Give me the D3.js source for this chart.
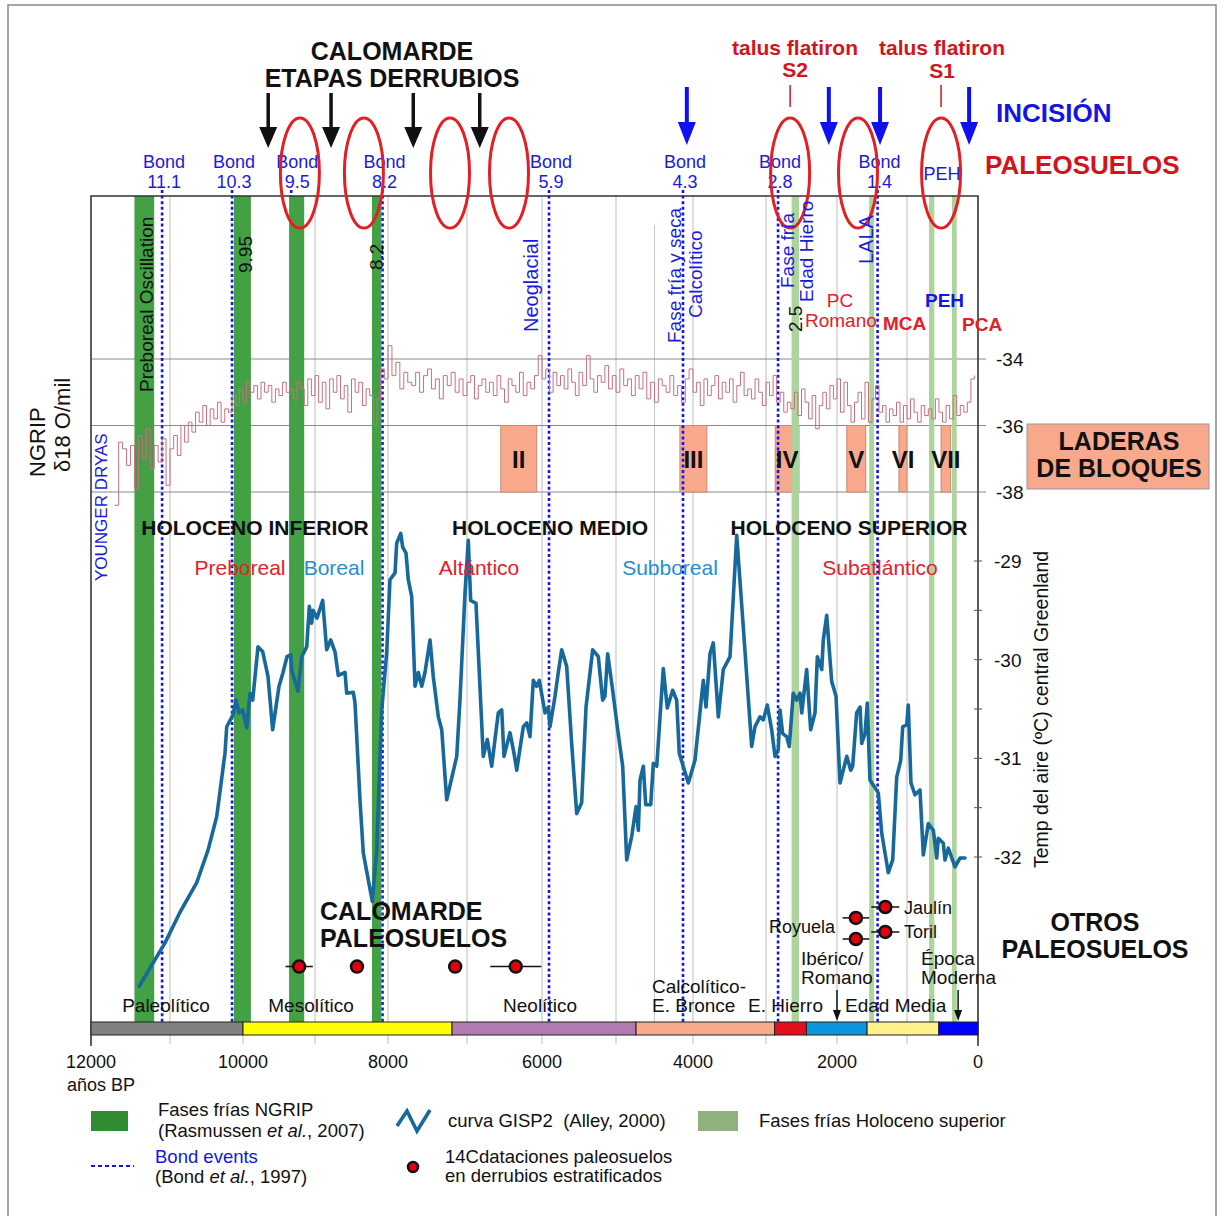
<!DOCTYPE html>
<html>
<head>
<meta charset="utf-8">
<script src="https://cdn.jsdelivr.net/npm/d3@7"></script>
<style>
  body { margin: 0; background: #fff; }
  svg { display: block; font-family: "Liberation Sans", Arial, sans-serif; }
</style>
</head>
<body>
<svg id="chart" width="1224" height="1216"></svg>
<script>
// ---- data (years BP) ----
const gridYears = [12000, 11000, 10000, 9000, 8000, 7000, 6000, 5000, 4000, 3000, 2000, 1000, 0];
const tickYears = [12000, 10000, 8000, 6000, 4000, 2000, 0];
const ngripTicks = [-34, -36, -38];
const gispTicks = [-29, -30, -31, -32];
const gispMinor = [-29.5, -30.5, -31.5];

// GISP2 air temperature, central Greenland (Alley 2000)
const gispYears = [11390,11063,10863,10634,10479,10360,10247,10223,10137,10096,
  10055,10004,9949,9903,9865,9792,9726,9653,9588,9500,
  9444,9389,9338,9319,9236,9185,9115,9079,9046,9028,
  8973,8895,8840,8785,8726,8681,8589,8566,8475,8452,
  8384,8338,8215,8155,8086,8018,7975,7911,7890,7839,
  7814,7772,7743,7700,7658,7616,7573,7532,7468,7427,
  7363,7320,7257,7130,7089,7025,6983,6951,6880,6783,
  6729,6671,6583,6537,6507,6427,6373,6337,6249,6204,
  6160,6116,6071,6036,5959,5915,5892,5824,5780,5734,
  5666,5599,5531,5464,5405,5315,5239,5180,5149,5113,
  5045,4983,4913,4861,4796,4740,4710,4688,4645,4614,
  4549,4515,4471,4386,4334,4264,4212,4178,4061,3973,
  3859,3822,3767,3722,3653,3585,3493,3401,3311,3196,
  3151,3082,3037,2982,2920,2873,2827,2803,2765,2709,
  2672,2616,2568,2521,2497,2427,2371,2310,2277,2215,
  2193,2145,2075,2014,1957,1861,1804,1776,1719,1671,
  1647,1600,1567,1529,1410,1361,1267,1204,1147,1090,
  1061,1004,982,944,887,817,770,700,629,582,
  559,489,465,418,324,253,183];
const gispTemp = [-33.31,-32.87,-32.56,-32.26,-31.93,-31.59,-30.95,-30.68,-30.56,-30.41,
  -30.54,-30.51,-30.69,-30.34,-30.41,-29.87,-29.92,-30.17,-30.71,-30.27,
  -30.13,-29.97,-29.95,-30.12,-30.32,-29.97,-29.87,-29.46,-29.63,-29.50,
  -29.58,-29.40,-29.90,-29.80,-29.92,-30.16,-30.13,-30.34,-30.33,-30.44,
  -31.42,-31.96,-32.45,-31.93,-30.51,-29.93,-29.19,-29.12,-28.82,-28.72,
  -28.86,-28.92,-29.19,-29.36,-30.27,-30.13,-30.27,-30.13,-29.80,-30.17,
  -30.58,-30.71,-31.42,-30.98,-30.41,-29.32,-28.79,-29.40,-29.43,-30.98,
  -30.81,-31.08,-30.54,-30.51,-30.98,-30.74,-30.95,-31.12,-30.68,-30.64,
  -30.78,-30.21,-30.27,-30.21,-30.54,-30.48,-30.68,-30.37,-30.13,-29.90,
  -30.07,-30.85,-31.56,-31.45,-30.48,-29.90,-29.97,-30.41,-30.37,-29.94,
  -30.31,-30.68,-31.08,-32.03,-31.79,-31.49,-31.73,-31.22,-31.08,-31.47,
  -31.47,-31.05,-31.08,-30.09,-30.49,-30.31,-30.41,-30.95,-31.25,-31.02,
  -30.21,-30.48,-29.94,-29.83,-30.58,-30.10,-29.97,-28.74,-29.67,-30.88,
  -30.68,-30.58,-30.61,-30.46,-30.71,-30.98,-30.91,-30.51,-30.75,-30.78,
  -30.88,-30.34,-30.41,-30.34,-30.54,-30.10,-30.71,-30.54,-29.97,-30.10,
  -29.80,-29.55,-30.22,-30.37,-31.25,-30.98,-31.12,-31.08,-30.54,-30.48,
  -30.85,-30.75,-30.44,-31.22,-31.35,-31.76,-32.16,-32.03,-31.19,-31.02,
  -30.68,-30.66,-30.46,-31.25,-31.37,-31.32,-31.98,-31.66,-31.73,-32.01,
  -31.81,-31.86,-32.03,-31.91,-32.10,-32.01,-32.01];

// NGRIP d18O, one value every 50 years from 11700 BP
const ngripStart = 11700, ngripStep = 50;
const ngripValues = [
  -38.4,-36.5,-36.7,-37.2,-36.6,-37.9,-36.3,-37.0,-36.1,-37.3,
  -36.6,-37.1,-36.4,-37.8,-36.7,-36.3,-36.9,-36.0,-36.5,-35.9,
  -36.2,-35.6,-35.9,-35.4,-36.0,-35.5,-35.8,-35.3,-35.9,-35.5,
  -35.6,-35.1,-35.4,-34.9,-35.3,-34.7,-35.0,-34.8,-35.2,-34.7,
  -35.0,-34.8,-35.3,-34.9,-35.1,-34.7,-35.0,-34.9,-35.2,-34.7,
  -34.9,-35.4,-34.6,-35.1,-34.5,-35.3,-34.7,-35.5,-34.6,-35.0,
  -34.5,-35.2,-34.8,-35.6,-34.6,-35.0,-34.7,-35.4,-34.9,-35.1,
  -36.0,-35.2,-34.3,-34.6,-33.6,-34.5,-34.1,-34.9,-34.4,-34.7,
  -34.8,-34.4,-35.0,-34.5,-34.3,-34.9,-34.6,-35.2,-34.5,-34.8,
  -34.4,-35.0,-34.6,-35.1,-34.7,-34.5,-35.2,-34.8,-34.6,-35.0,
  -34.7,-35.1,-34.5,-34.9,-35.3,-34.6,-34.8,-35.0,-34.4,-35.1,
  -34.7,-34.9,-34.5,-33.9,-34.6,-34.3,-35.0,-34.4,-34.8,-34.5,
  -34.9,-34.3,-34.7,-35.1,-34.4,-34.8,-33.9,-34.6,-35.0,-34.5,
  -34.7,-34.2,-34.9,-34.5,-35.0,-34.3,-34.8,-34.6,-35.1,-34.5,
  -34.9,-34.4,-35.2,-34.7,-35.3,-34.6,-34.8,-35.0,-34.5,-35.1,
  -34.8,-35.3,-34.6,-34.3,-35.0,-34.7,-35.4,-34.6,-35.1,-34.8,
  -34.5,-35.2,-34.7,-35.0,-34.6,-35.3,-34.8,-34.4,-35.1,-34.9,
  -35.2,-34.6,-35.0,-35.4,-34.7,-35.1,-34.5,-35.3,-35.0,-35.6,
  -35.3,-35.5,-35.0,-35.7,-34.9,-35.3,-35.8,-35.1,-36.1,-35.4,
  -35.0,-35.5,-34.8,-35.2,-34.6,-35.6,-34.7,-35.4,-35.9,-35.3,
  -35.0,-35.8,-34.7,-35.9,-35.2,-34.8,-35.6,-35.4,-35.9,-35.5,
  -35.7,-35.3,-35.9,-35.4,-35.8,-35.2,-35.6,-35.9,-35.4,-35.7,
  -35.5,-35.8,-35.2,-35.6,-35.9,-35.4,-35.8,-35.1,-35.7,-35.4,
  -35.6,-35.3,-34.6,-34.5];

const coldNGRIP = [[11450, 11200], [10125, 9890], [9360, 9150], [8220, 8090]];
const coldLate = [[2640, 2535], [1540, 1470], [690, 615], [366, 300]];
const bondYears = [11100, 10150, 9330, 8075, 5905, 4130, 2830, 1420];
const bondNames = ["11.1", "10.3", "9.5", "8.2", "5.9", "4.3", "2.8", "1.4"];
const laderaNames = ["II", "III", "IV", "V", "VI", "VII"];
const laderaFrom = [6550, 4170, 2870, 1860, 1115, 520];
const laderaTo = [6070, 3810, 2535, 1590, 1000, 385];
const periodColors = ["#808080", "#ffff00", "#b07cb0", "#f9aa8c", "#e3101c", "#0f95dd", "#fff28a", "#0000ff"];
const periodBreaks = [12000, 10000, 7190, 4740, 2880, 2430, 1570, 552, 0];
const paleoEllipses = [9210, 8330, 7215, 6440, 2660, 1700, 520];
const derrubioArrows = [9650, 8780, 7680, 6830];
const incisionArrows = [4080, 2115, 1385, 125];
// 14C dates: [age, error, row]
const calomardeDates = [[9220, 190, 1.86], [8425, 0, 1.86], [7150, 0, 1.86], [6350, 340, 1.86]];
const otrosDates = [[1730, 190, 0.34], [1730, 190, 1], [1310, 200, 0], [1310, 200, 0.78]];

// ---- scales ----
const svg = d3.select("#chart");
const x = d3.scaleLinear().domain(gridYears)
  .range([91, 170, 243, 315, 388, 467, 542, 616, 693, 766, 837, 907, 978]);
const yN = d3.scaleLinear().domain([-34, -38]).range([359, 492]);
const yG = d3.scaleLinear().domain([-29, -32]).range([561, 857]);
const yDot = d3.scaleLinear().domain([0, 1]).range([907, 939]);
const plotTop = 196, barTop = 1022, barBot = 1035;
const red = "#e3202a", blue = "#1a1ae0", lightBlue = "#1e8fd5", ink = "#111";

function txt(g, tx, ty, s, o = {}) {
  return g.append("text")
    .attr("x", tx).attr("y", ty)
    .attr("font-size", o.size || 18)
    .attr("font-weight", o.bold ? "bold" : null)
    .attr("fill", o.fill || ink)
    .attr("text-anchor", o.anchor || "start")
    .text(s);
}
function vtxt(g, bx, by, s, o = {}) {
  return g.append("text")
    .attr("transform", `translate(${bx},${by}) rotate(-90)`)
    .attr("font-size", o.size || 18)
    .attr("font-weight", o.bold ? "bold" : null)
    .attr("fill", o.fill || ink)
    .attr("text-anchor", o.anchor || "start")
    .text(s);
}
function arrow(g, ax, y0, yh, y1, color, w) {
  g.append("line").attr("x1", ax).attr("x2", ax).attr("y1", y0).attr("y2", yh + 2)
    .attr("stroke", color).attr("stroke-width", w);
  g.append("path").attr("d", `M${ax - 9},${yh}L${ax + 9},${yh}L${ax},${y1}Z`).attr("fill", color);
}

// outer frame
svg.append("rect").attr("x", 8).attr("y", 5).attr("width", 1208).attr("height", 1230)
  .attr("fill", "none").attr("stroke", "#888").attr("stroke-width", 1.5);

// gridlines
svg.append("g").selectAll("line").data(gridYears).join("line")
  .attr("x1", d => x(d)).attr("x2", d => x(d))
  .attr("y1", plotTop).attr("y2", 1044)
  .attr("stroke", "#bdbdbd").attr("stroke-width", 1);
svg.append("line").attr("x1", x(4500)).attr("x2", x(4500)).attr("y1", 225).attr("y2", barTop)
  .attr("stroke", "#c8c8c8");
svg.append("g").selectAll("line").data(ngripTicks).join("line")
  .attr("x1", 91).attr("x2", 986)
  .attr("y1", d => yN(d)).attr("y2", d => yN(d))
  .attr("stroke", "#8a8a8a").attr("stroke-width", 1);

// laderas de bloques
svg.append("g").selectAll("rect").data(laderaNames).join("rect")
  .attr("x", (d, i) => x(laderaFrom[i]))
  .attr("width", (d, i) => x(laderaTo[i]) - x(laderaFrom[i]))
  .attr("y", yN(-36)).attr("height", yN(-38) - yN(-36))
  .attr("fill", "#f8a98c").attr("stroke", "#c98a70").attr("stroke-width", 1);

// bond events
svg.append("g").selectAll("line").data(bondYears).join("line")
  .attr("x1", d => x(d)).attr("x2", d => x(d))
  .attr("y1", 190).attr("y2", barTop)
  .attr("stroke", "#1414e6").attr("stroke-width", 2.6).attr("stroke-dasharray", "3,2.6");

// cold phases
svg.append("g").selectAll("rect").data(coldNGRIP).join("rect")
  .attr("x", d => x(d[0])).attr("width", d => x(d[1]) - x(d[0]))
  .attr("y", plotTop).attr("height", barTop - plotTop)
  .attr("fill", "#43a044");
svg.append("g").selectAll("rect").data(coldLate).join("rect")
  .attr("x", d => x(d[0])).attr("width", d => x(d[1]) - x(d[0]))
  .attr("y", plotTop).attr("height", barTop - plotTop)
  .attr("fill", "#acd49c");

// NGRIP step curve
const ngrip = ngripValues.map((v, i) => [ngripStart - i * ngripStep, v]);
svg.append("path")
  .attr("d", d3.line().x(d => x(d[0])).y(d => yN(d[1])).curve(d3.curveStepAfter)(ngrip))
  .attr("fill", "none").attr("stroke", "#c9707e").attr("stroke-width", 1);

// GISP2 curve
const gisp = d3.zip(gispYears, gispTemp);
svg.append("path")
  .attr("d", d3.line().x(d => x(d[0])).y(d => yG(d[1]))(gisp))
  .attr("fill", "none").attr("stroke", "#17699c").attr("stroke-width", 3.6)
  .attr("stroke-linejoin", "round").attr("stroke-linecap", "round");

// plot frame and right axis
svg.append("path").attr("d", `M91,1046V${plotTop}H978V1046`)
  .attr("fill", "none").attr("stroke", "#333").attr("stroke-width", 1.5);
svg.append("g").selectAll("line").data(gispTicks.concat(gispMinor)).join("line")
  .attr("x1", 974).attr("x2", 982)
  .attr("y1", d => yG(d)).attr("y2", d => yG(d))
  .attr("stroke", "#555");
svg.append("g").selectAll("text").data(ngripTicks).join("text")
  .attr("x", 996).attr("y", d => yN(d) + 7)
  .attr("font-size", 19).attr("fill", ink).text(d => d);
svg.append("g").selectAll("text").data(gispTicks).join("text")
  .attr("x", 994).attr("y", d => yG(d) + 7)
  .attr("font-size", 19).attr("fill", ink).text(d => d);

// chronology bar
svg.append("g").selectAll("rect").data(periodColors).join("rect")
  .attr("x", (d, i) => x(periodBreaks[i]))
  .attr("width", (d, i) => x(periodBreaks[i + 1]) - x(periodBreaks[i]))
  .attr("y", barTop).attr("height", barBot - barTop)
  .attr("fill", d => d).attr("stroke", "#222").attr("stroke-width", 1);

// x axis labels
svg.append("g").selectAll("text").data(tickYears).join("text")
  .attr("x", d => x(d)).attr("y", 1068)
  .attr("text-anchor", "middle").attr("font-size", 18).attr("fill", ink)
  .text(d => d);
txt(svg, 67, 1091, "años BP", { size: 18 });

// axis titles
vtxt(svg, 45, 477, "NGRIP", { size: 22 });
vtxt(svg, 70, 472, "δ18 O/mil", { size: 22 });
vtxt(svg, 1048, 868, "Temp del aire (ºC) central Greenland", { size: 19.5 });

// top annotations
const topG = svg.append("g");
txt(topG, 392, 60, "CALOMARDE", { size: 25, bold: true, anchor: "middle" });
txt(topG, 392, 87, "ETAPAS DERRUBIOS", { size: 25, bold: true, anchor: "middle" });
derrubioArrows.forEach(d => arrow(topG, x(d), 93, 127, 148, "#111", 3.5));
incisionArrows.forEach(d => arrow(topG, x(d), 87, 122, 145, "#1010ee", 4));
txt(topG, 795, 55, "talus flatiron", { size: 21, bold: true, fill: "#d4141c", anchor: "middle" });
txt(topG, 795, 77, "S2", { size: 21, bold: true, fill: "#d4141c", anchor: "middle" });
txt(topG, 942, 55, "talus flatiron", { size: 21, bold: true, fill: "#d4141c", anchor: "middle" });
txt(topG, 942, 78, "S1", { size: 21, bold: true, fill: "#d4141c", anchor: "middle" });
[2660, 520].forEach(d => topG.append("line").attr("x1", x(d)).attr("x2", x(d))
  .attr("y1", 85).attr("y2", 107).attr("stroke", "#d4141c").attr("stroke-width", 1.5));
txt(topG, 996, 122, "INCISIÓN", { size: 26, bold: true, fill: "#1414e6" });
txt(topG, 985, 174, "PALEOSUELOS", { size: 26, bold: true, fill: "#d4141c" });

// bond labels
bondYears.forEach((d, i) => {
  txt(topG, x(d) + (i === 2 ? 6 : 2), 168, "Bond", { size: 18, fill: blue, anchor: "middle" });
  txt(topG, x(d) + (i === 2 ? 6 : 2), 188, bondNames[i], { size: 18, fill: blue, anchor: "middle" });
});
txt(topG, 942, 180, "PEH", { size: 18, fill: blue, anchor: "middle" });

// paleosol ellipses
topG.selectAll("ellipse").data(paleoEllipses).join("ellipse")
  .attr("cx", d => x(d)).attr("cy", 173).attr("rx", 19.5).attr("ry", 55)
  .attr("fill", "none").attr("stroke", "#e31e24").attr("stroke-width", 3);

// vertical event labels
const ann = svg.append("g");
vtxt(ann, 153, 392, "Preboreal Oscillation", { size: 19 });
vtxt(ann, 107, 581, "YOUNGER DRYAS", { size: 17, fill: blue });
vtxt(ann, 252, 273, "9.95", { size: 19 });
vtxt(ann, 383, 270, "8.2", { size: 19 });
vtxt(ann, 802, 332, "2.5", { size: 19 });
vtxt(ann, 538, 332, "Neoglacial", { size: 20, fill: blue });
vtxt(ann, 681, 343, "Fase fría y seca", { size: 19, fill: blue });
vtxt(ann, 702, 318, "Calcolítico", { size: 19, fill: blue });
vtxt(ann, 794, 288, "Fase fría", { size: 19, fill: blue });
vtxt(ann, 813, 302, "Edad Hierro", { size: 19, fill: blue });
vtxt(ann, 873, 264, "LALA", { size: 20, fill: blue });
txt(ann, 840, 307, "PC", { size: 19, fill: red, anchor: "middle" });
txt(ann, 805, 327, "Romano", { size: 19, fill: red });
txt(ann, 883, 330, "MCA", { size: 19, bold: true, fill: red });
txt(ann, 925, 307, "PEH", { size: 19, bold: true, fill: "#1414e6" });
txt(ann, 962, 331, "PCA", { size: 19, bold: true, fill: red });

// laderas labels
svg.append("g").selectAll("text").data(laderaNames).join("text")
  .attr("x", (d, i) => (x(laderaFrom[i]) + x(laderaTo[i])) / 2)
  .attr("y", 468).attr("text-anchor", "middle")
  .attr("font-size", 24).attr("font-weight", "bold").attr("fill", ink)
  .text(d => d);
svg.append("rect").attr("x", 1027).attr("y", 424).attr("width", 182).attr("height", 65)
  .attr("fill", "#f8a98c").attr("stroke", "#999");
txt(svg, 1119, 450, "LADERAS", { size: 25, bold: true, anchor: "middle" });
txt(svg, 1119, 477, "DE BLOQUES", { size: 25, bold: true, anchor: "middle" });

// holocene divisions
txt(ann, 255, 535, "HOLOCENO INFERIOR", { size: 21, bold: true, anchor: "middle" });
txt(ann, 550, 535, "HOLOCENO MEDIO", { size: 21, bold: true, anchor: "middle" });
txt(ann, 849, 535, "HOLOCENO SUPERIOR", { size: 21, bold: true, anchor: "middle" });
txt(ann, 240, 575, "Preboreal", { size: 21, fill: red, anchor: "middle" });
txt(ann, 334, 575, "Boreal", { size: 21, fill: lightBlue, anchor: "middle" });
txt(ann, 479, 575, "Altántico", { size: 21, fill: red, anchor: "middle" });
txt(ann, 670, 575, "Subboreal", { size: 21, fill: lightBlue, anchor: "middle" });
txt(ann, 880, 575, "Subatlántico", { size: 21, fill: red, anchor: "middle" });

// 14C dates
const dots = svg.append("g");
const allDates = calomardeDates.concat(otrosDates);
dots.selectAll("line").data(allDates.filter(d => d[1] > 0)).join("line")
  .attr("x1", d => x(d[0] + d[1])).attr("x2", d => x(d[0] - d[1]))
  .attr("y1", d => yDot(d[2])).attr("y2", d => yDot(d[2]))
  .attr("stroke", "#111").attr("stroke-width", 1.5);
dots.selectAll("circle").data(allDates).join("circle")
  .attr("cx", d => x(d[0])).attr("cy", d => yDot(d[2])).attr("r", 6)
  .attr("fill", "#e00010").attr("stroke", "#111").attr("stroke-width", 2.5);
txt(dots, 320, 920, "CALOMARDE", { size: 25, bold: true });
txt(dots, 320, 947, "PALEOSUELOS", { size: 25, bold: true });
txt(dots, 1095, 931, "OTROS", { size: 25, bold: true, anchor: "middle" });
txt(dots, 1095, 958, "PALEOSUELOS", { size: 25, bold: true, anchor: "middle" });
txt(dots, 904, 914, "Jaulín", { size: 18 });
txt(dots, 904, 938, "Toril", { size: 18 });
txt(dots, 835, 933, "Royuela", { size: 18, anchor: "end" });

// cultural periods
const cul = svg.append("g");
txt(cul, 166, 1012, "Paleolítico", { size: 19, anchor: "middle" });
txt(cul, 311, 1012, "Mesolítico", { size: 19, anchor: "middle" });
txt(cul, 540, 1012, "Neolítico", { size: 19, anchor: "middle" });
txt(cul, 652, 993, "Calcolítico-", { size: 19 });
txt(cul, 652, 1012, "E. Bronce", { size: 19 });
txt(cul, 748, 1012, "E. Hierro", { size: 19 });
txt(cul, 845, 1012, "Edad Media", { size: 19 });
txt(cul, 801, 965, "Ibérico/", { size: 19 });
txt(cul, 801, 984, "Romano", { size: 19 });
txt(cul, 921, 965, "Época", { size: 19 });
txt(cul, 921, 984, "Moderna", { size: 19 });
[2000, 280].forEach(d => {
  cul.append("line").attr("x1", x(d)).attr("x2", x(d)).attr("y1", 990).attr("y2", 1012)
    .attr("stroke", "#111").attr("stroke-width", 1.5);
  cul.append("path").attr("d", `M${x(d) - 4},1010L${x(d) + 4},1010L${x(d)},1021Z`).attr("fill", "#111");
});

// legend
const leg = svg.append("g");
leg.append("rect").attr("x", 91).attr("y", 1111).attr("width", 37).attr("height", 20).attr("fill", "#2f8c33");
txt(leg, 158, 1116, "Fases frías NGRIP", { size: 18.5 });
const l2 = txt(leg, 158, 1137, "(Rasmussen ", { size: 18.5 });
l2.append("tspan").attr("font-style", "italic").text("et al.");
l2.append("tspan").text(", 2007)");
leg.append("line").attr("x1", 91).attr("x2", 134).attr("y1", 1166).attr("y2", 1166)
  .attr("stroke", "#1414e6").attr("stroke-width", 2).attr("stroke-dasharray", "4,3");
txt(leg, 155, 1163, "Bond events", { size: 18.5, fill: "#1414e6" });
const l4 = txt(leg, 155, 1183, "(Bond ", { size: 18.5 });
l4.append("tspan").attr("font-style", "italic").text("et al.");
l4.append("tspan").text(", 1997)");
leg.append("path").attr("d", "M397,1126L407,1111L417,1131L430,1110")
  .attr("fill", "none").attr("stroke", "#17699c").attr("stroke-width", 3.6);
txt(leg, 448, 1127, "curva GISP2  (Alley, 2000)", { size: 18.5 }).style("white-space", "pre");
leg.append("circle").attr("cx", 413).attr("cy", 1167).attr("r", 5)
  .attr("fill", "#e00010").attr("stroke", "#111").attr("stroke-width", 2.5);
txt(leg, 445, 1163, "14Cdataciones paleosuelos", { size: 18.5 });
txt(leg, 445, 1182, "en derrubios estratificados", { size: 18.5 });
leg.append("rect").attr("x", 698).attr("y", 1111).attr("width", 40).attr("height", 20).attr("fill", "#8fb27c");
txt(leg, 759, 1127, "Fases frías Holoceno superior", { size: 18.5 });
</script>
</body>
</html>
